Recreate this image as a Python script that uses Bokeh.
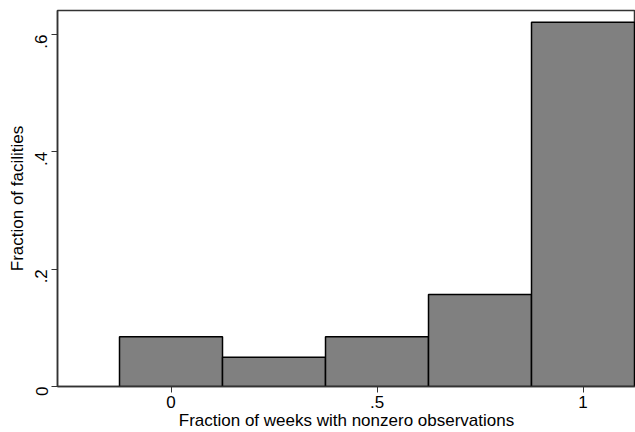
from bokeh.plotting import figure
from bokeh.models import FixedTicker, Range1d
from bokeh.embed import file_html
from bokeh.resources import INLINE
import math

bin_centers = [0.0, 0.25, 0.5, 0.75, 1.0]
bin_width = 0.25
fractions = [0.085, 0.050, 0.085, 0.157, 0.621]
x_ticks = [0, 0.5, 1]
x_tick_labels = ["0", ".5", "1"]
y_ticks = [0, 0.2, 0.4, 0.6]
y_tick_labels = ["0", ".2", ".4", ".6"]

lefts = [c - bin_width / 2 for c in bin_centers]
rights = [c + bin_width / 2 for c in bin_centers]

p = figure(width=635, height=432, output_backend="svg", toolbar_location=None,
           x_range=Range1d(-0.2755, 1.1274), y_range=Range1d(0, 0.641),
           min_border_left=57, min_border_right=0, min_border_top=10, min_border_bottom=45)
p.quad(left=lefts, right=rights, bottom=0, top=fractions,
       fill_color="#808080", line_color="black", line_width=1.5)

p.xgrid.visible = False
p.ygrid.visible = False
p.outline_line_color = "#333333"
p.outline_line_width = 1.5

font = "Liberation Sans"
for ax in (p.xaxis[0], p.yaxis[0]):
    ax.axis_line_color = "#333333"
    ax.axis_line_width = 1.5
    ax.major_tick_line_color = "#333333"
    ax.major_tick_in = 0
    ax.major_tick_out = 6
    ax.minor_tick_line_color = None
    ax.major_label_text_font = font
    ax.major_label_text_font_size = "17px"
    ax.major_label_text_color = "black"
    ax.axis_label_text_font = font
    ax.axis_label_text_font_size = "17px"
    ax.axis_label_text_font_style = "normal"
    ax.axis_label_text_color = "black"

p.xaxis.ticker = FixedTicker(ticks=x_ticks)
p.xaxis.major_label_overrides = dict(zip(x_ticks, x_tick_labels))
p.yaxis.ticker = FixedTicker(ticks=y_ticks)
p.yaxis.major_label_overrides = dict(zip(y_ticks, y_tick_labels))
p.yaxis.major_label_orientation = math.pi / 2
p.xaxis.axis_label = "Fraction of weeks with nonzero observations"
p.yaxis.axis_label = "Fraction of facilities"
p.xaxis.major_label_standoff = 3
p.xaxis.axis_label_standoff = 0
p.yaxis.major_label_standoff = 10
p.yaxis.axis_label_standoff = 0

open("out.html", "w").write(file_html(p, INLINE))
